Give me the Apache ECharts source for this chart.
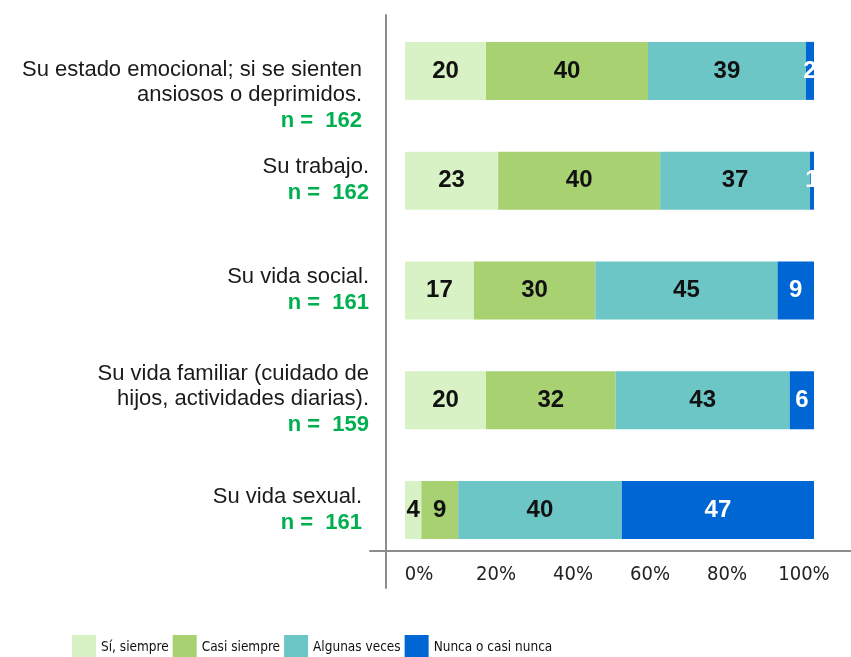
<!DOCTYPE html>
<html>
<head>
<meta charset="utf-8">
<script src="https://cdn.jsdelivr.net/npm/echarts@6/dist/echarts.min.js"></script>
<style>
	html, body { margin: 0; padding: 0; background: #fff; }
	#main { width: 851px; height: 657px; }
</style>
</head>
<body>
<div id="main"></div>
<script>
// datos
var categoryLines = [
	['Su estado emocional; si se sienten', 'ansiosos o deprimidos.'],
	['Su trabajo.'],
	['Su vida social.'],
	['Su vida familiar (cuidado de', 'hijos, actividades diarias).'],
	['Su vida sexual.']
];
var sampleSizes = [162, 162, 161, 159, 161];
var seriesNames = ['Sí, siempre', 'Casi siempre', 'Algunas veces', 'Nunca o casi nunca'];
var siSiempre = [20, 23, 17, 20, 4];
var casiSiempre = [40, 40, 30, 32, 9];
var algunasVeces = [39, 37, 45, 43, 40];
var nunca = [2, 1, 9, 6, 47];
var tickValues = [0, 20, 40, 60, 80, 100];

var seriesColors = ['#d9f2c5', '#a8d172', '#6dc6c6', '#0066d3'];
var labelColors = ['#111', '#111', '#111', '#fff'];
var narrowFont = "'Liberation Sans Narrow', 'DejaVu Sans Condensed', 'Liberation Sans', sans-serif";

var mainChart = null;
var chartOpt = null;

function initChart() {
	mainChart = echarts.init(document.getElementById('main'));

	var raw = [siSiempre, casiSiempre, algunasVeces, nunca];
	var totals = siSiempre.map(function(v, i) {
		return siSiempre[i] + casiSiempre[i] + algunasVeces[i] + nunca[i];
	});

	var series = raw.map(function(vals, s) {
		return {
			name: seriesNames[s],
			type: 'bar',
			stack: 'total',
			xAxisIndex: 0,
			yAxisIndex: 0,
			barWidth: 58,
			itemStyle: { color: seriesColors[s] },
			label: {
				show: true,
				position: 'inside',
				color: labelColors[s],
				fontFamily: 'Liberation Sans',
				fontWeight: 'bold',
				fontSize: 24,
				formatter: function(p) { return vals[p.dataIndex]; }
			},
			emphasis: { disabled: true },
			data: vals.map(function(v, i) { return v / totals[i] * 100; })
		};
	});

	chartOpt = {
		animation: false,
		textStyle: { fontFamily: 'Liberation Sans' },
		legend: {
			left: 72,
			top: 635,
			padding: 0,
			itemWidth: 24,
			itemHeight: 24,
			itemGap: 4,
			icon: 'rect',
			textStyle: { fontFamily: narrowFont, fontSize: 13.5, color: '#111' },
			data: seriesNames
		},
		grid: [
			{ left: 405, right: 37, top: 16, bottom: 92 },
			{ left: 419, right: 47, top: 16, bottom: 106 },
			{ left: 370, right: 0, top: 15, bottom: 106 },
			{ left: 386, right: 0, top: 15, bottom: 69 }
		],
		xAxis: [
			{ gridIndex: 0, type: 'value', min: 0, max: 100, show: false },
			{
				gridIndex: 1, type: 'value', min: tickValues[0], max: tickValues[tickValues.length - 1], interval: 20,
				axisLine: { show: false }, axisTick: { show: false }, splitLine: { show: false },
				axisLabel: { margin: 14, fontFamily: narrowFont, fontSize: 20, color: '#222', formatter: '{value}%' }
			},
			{
				gridIndex: 2, type: 'value', min: 0, max: 100,
				axisLine: { show: true, lineStyle: { color: '#8c8c8c', width: 2 } },
				axisTick: { show: false }, axisLabel: { show: false }, splitLine: { show: false }
			},
			{ gridIndex: 3, type: 'value', min: 0, max: 100, show: false }
		],
		yAxis: [
			{
				gridIndex: 0, type: 'category', inverse: true,
				data: categoryLines.map(function(l) { return l.join(' '); }),
				axisLine: { show: false }, axisTick: { show: false },
				axisLabel: {
					margin: 36,
					align: 'right',
					formatter: function(value, idx) {
						var pad = (idx === 0 || idx === 4) ? 'p' : '';
						var out = [];
						if (idx === 0) out.push('{sp| }');
						categoryLines[idx].forEach(function(t) { out.push('{a' + pad + '|' + t + '}'); });
						out.push('{n' + pad + '|n =  ' + sampleSizes[idx] + '}');
						return out.join('\n');
					},
					rich: {
						sp: { fontSize: 10, lineHeight: 50 },
						a: { fontFamily: 'Liberation Sans', fontSize: 22, lineHeight: 25, color: '#1a1a1a' },
						ap: { fontFamily: 'Liberation Sans', fontSize: 22, lineHeight: 25, color: '#1a1a1a', padding: [0, 7, 0, 0] },
						n: { fontFamily: 'Liberation Sans', fontWeight: 'bold', fontSize: 22, lineHeight: 27, color: '#00b050' },
						np: { fontFamily: 'Liberation Sans', fontWeight: 'bold', fontSize: 22, lineHeight: 27, color: '#00b050', padding: [0, 7, 0, 0] }
					}
				}
			},
			{ gridIndex: 1, type: 'value', min: 0, max: 100, show: false },
			{ gridIndex: 2, type: 'value', min: 0, max: 100, show: false },
			{
				gridIndex: 3, type: 'value', min: 0, max: 100,
				axisLine: { show: true, lineStyle: { color: '#8c8c8c', width: 2 } },
				axisTick: { show: false }, axisLabel: { show: false }, splitLine: { show: false }
			}
		],
		series: series
	};

	mainChart.setOption(chartOpt);
}

initChart();
</script>
</body>
</html>
